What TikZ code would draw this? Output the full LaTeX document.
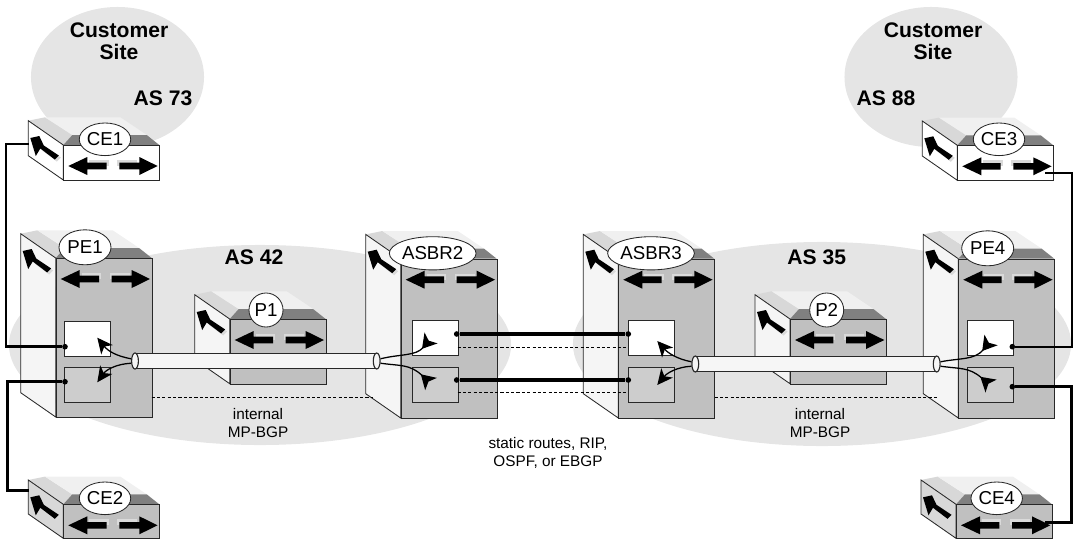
\documentclass[tikz,border=0pt]{standalone}
\usepackage{fontspec}
\setmainfont{Liberation Sans}
\usepackage{xcolor}
\usepackage{tikz}
\usetikzlibrary{arrows.meta,shapes.geometric}
\definecolor{asCloud}  {RGB}{229,229,229}
\definecolor{asFace}   {RGB}{192,192,192}
\definecolor{asSide}   {RGB}{245,245,245}
\definecolor{asTop}    {RGB}{128,128,128}
\definecolor{asTopL}   {RGB}{216,216,216}
\definecolor{asTopXL}  {RGB}{240,240,240}
\definecolor{asShade}  {RGB}{218,218,218}
\definecolor{asLine}   {RGB}{ 40, 40, 40}
\definecolor{asPipe}   {RGB}{246,246,246}

% router: name, x, y (front top left), height, side fill, front fill
\newcommand{\router}[6]{
  \begin{scope}[shift={(#2,#3)}]
    \fill[asTopL]  (-35,-24.3) -- (-18.3,-27.7) -- (9,-10) -- (0,0) -- cycle;
    \fill[asTopXL] (-18.3,-27.7) -- (57,-27.7) -- (83.4,-10) -- (9,-10) -- cycle;
    \fill[asTop]   (0,0) -- (9,-10) -- (83.4,-10) -- (96,0) -- cycle;
    \draw[edge,fill=#5] (-35,-24.3) -- (0,0) -- (0,#4) -- (-35,#4-24.3) -- cycle;
    \node[frontbox,fill=#6,minimum height=#4*0.025cm] (#1) at (0,0) {};
    % shadows, then the three arrows
    \fill[asShade,shift={(2,-3)}] (24,18) -- (43.3,18) -- (43.3,24) -- (24,24) -- cycle;
    \fill[asShade,shift={(-2,-3)}] (56,18) -- (76,18) -- (76,24) -- (56,24) -- cycle;
    \fill[asShade,shift={(2,2)}] (-19.5,0.5) -- (-4.5,10.5) -- (-8.5,14.5) -- (-23,3.5) -- cycle;
    \fill[black] (5,21) -- (24,12) -- (24,17.7) -- (43.3,17.7) -- (43.3,24.3) -- (24,24.3) -- (24,30) -- cycle;
    \fill[black] (56,17.7) -- (76,17.7) -- (76,12) -- (94.3,21) -- (76,30) -- (76,24.3) -- (56,24.3) -- cycle;
    \fill[black] (-33,-7) -- (-24,-9) -- (-19.5,0.5) -- (-4.5,10.5) -- (-8.5,14.5)
                 -- (-23,3.5) -- (-27.5,11) -- cycle;
  \end{scope}
}

\begin{document}
\begin{tikzpicture}[
  x=0.025cm,y=-0.025cm,
  every node/.style={font=\fontsize{10.9}{13}\selectfont},
  edge/.style={draw=asLine,line width=0.6pt},
  frontbox/.style={edge,rectangle,anchor=north west,inner sep=0,
                   minimum width=2.4cm},
  portbox/.style={edge,rectangle,anchor=north west,inner sep=0,
                  minimum width=1.135cm,minimum height=0.87cm},
  cloud/.style={ellipse,fill=asCloud,inner sep=0},
  tagce/.style={edge,ellipse,fill=white,inner sep=0,minimum width=1.125cm,
                minimum height=0.815cm,font=\fontsize{13.3}{15}\selectfont},
  tagpe/.style={tagce,minimum width=1.3cm,minimum height=0.875cm},
  tagp/.style={tagce,minimum width=0.85cm,minimum height=0.85cm},
  tagasbr/.style={tagce,minimum width=1.95cm,minimum height=0.83cm},
  head/.style={font=\bfseries\fontsize{15}{15.6}\selectfont,align=center,inner sep=0},
  note/.style={align=center,inner sep=0},
  dotnode/.style={circle,fill=black,inner sep=0,minimum size=0.14cm},
  link/.style={line width=1.9pt},
  hop/.style={line width=2.5pt},
  session/.style={line width=0.7pt,dash pattern=on 2.2pt off 1.6pt},
  tube/.style={draw=asLine,line width=0.8pt,ellipse,fill=asPipe,inner sep=0,
               minimum width=0.17cm,minimum height=0.4cm},
  flow/.style={line width=0.9pt,-{Stealth[length=11pt,width=10.5pt,inset=3pt]}},
  backflow/.style={line width=0.9pt,-{Stealth[length=10pt,width=12pt,inset=2.5pt,reversed]}}
]
\useasboundingbox (0,0) rectangle (1073,539);

% AS clouds
\node[cloud,minimum width=4.325cm,minimum height=3.5cm] (site1) at (117.5,77) {};
\node[cloud,minimum width=4.325cm,minimum height=3.5cm] (site2) at (931,77) {};
\node[cloud,minimum width=12.55cm,minimum height=5cm] (as42) at (260,345) {};
\node[cloud,minimum width=12.45cm,minimum height=5.1cm] (as35) at (822,344) {};

% Routers
\router{ce1}{63.3}{145}{35}{white}{white}
\router{ce3}{957.3}{145.3}{35}{white}{white}
\router{ce2}{63.3}{504.3}{34}{asTopL}{asFace}
\router{ce4}{956}{504.3}{34}{asTopL}{asFace}
\router{pe1}{55.7}{258}{159}{asSide}{asFace}
\router{asbr2}{400.7}{258.7}{159.3}{asSide}{asFace}
\router{asbr3}{618.3}{258.7}{159.3}{asSide}{asFace}
\router{pe4}{958.3}{258.7}{159.3}{asSide}{asFace}
\router{p1}{229.7}{319}{64.7}{asSide}{asFace}
\router{p2}{790}{319}{64.7}{asSide}{asFace}

% Ports
\node[portbox,fill=white] (pe1up)   at (64.3,320.7) {};
\node[portbox,fill=asFace!80!white] (pe1dn)   at (64.3,367.3) {};
\node[portbox,fill=white] (asbr2up) at (412.3,320.3) {};
\node[portbox,fill=asFace!80!white] (asbr2dn) at (412.3,367) {};
\node[portbox,fill=white] (asbr3up) at (628.3,320.3) {};
\node[portbox,fill=asFace!80!white] (asbr3dn) at (628.3,367) {};
\node[portbox,fill=white] (pe4up)   at (967.3,320.3) {};
\node[portbox,fill=asFace!80!white] (pe4dn)   at (967.3,367) {};

% Tubes
\fill[asPipe] (135,353.3) rectangle (376.7,368.7);
\draw[edge] (135,353.3) -- (376.7,353.3) (135,368.7) -- (376.7,368.7);
\fill[asPipe] (695.3,356.2) rectangle (936.7,371.8);
\draw[edge] (695.3,356.2) -- (936.7,356.2) (695.3,371.8) -- (936.7,371.8);
\node[tube] (tube1) at (135,361) {};
\node[tube] (tube2) at (376.7,361) {};
\node[tube] (tube3) at (695.3,364) {};
\node[tube] (tube4) at (936.7,364) {};

% Ends of the flows inside the ports
\coordinate (pe1tipa)   at (97.3,337.7);
\coordinate (pe1tipb)   at (97.3,382.3);
\coordinate (asbr3tipa) at (657.3,341);
\coordinate (asbr3tipb) at (657.3,385);
\coordinate (asbr2tipa) at (431,338);
\coordinate (asbr2tipb) at (431,384);
\coordinate (pe4tipa)   at (991,340);
\coordinate (pe4tipb)   at (991,386);

\draw[flow] (tube1.150) .. controls (116,356) and (108,351) .. (pe1tipa);
\draw[flow] (tube1.210) .. controls (116,364) and (106,370) .. (pe1tipb);
\draw[flow] (tube3.150) .. controls (677,359) and (668,353) .. (asbr3tipa);
\draw[flow] (tube3.210) .. controls (677,367) and (667,373) .. (asbr3tipb);
\draw[backflow] (tube2.30) .. controls (400,354) and (416,356) .. (asbr2tipa);
\draw[backflow] (tube2.-30) .. controls (400,366) and (410,364) .. (asbr2tipb);
\draw[backflow] (tube4.30) .. controls (960,358) and (975,360) .. (pe4tipa);
\draw[backflow] (tube4.-30) .. controls (960,369) and (969,367) .. (pe4tipb);

% Link dots
\node[dotnode] (pe1a)   at (65,346.7) {};
\node[dotnode] (pe1b)   at (65,381.7) {};
\node[dotnode] (asbr2a) at (456.7,334) {};
\node[dotnode] (asbr2b) at (456.7,380) {};
\node[dotnode] (asbr3a) at (628.3,334) {};
\node[dotnode] (asbr3b) at (628.3,380) {};
\node[dotnode] (pe4a)   at (1012.3,346.7) {};
\node[dotnode] (pe4b)   at (1012.3,386.7) {};
\coordinate (ce1link) at (28.5,144);
\coordinate (ce2link) at (28.5,490.7);
\coordinate (ce3link) at (1045,173.3);
\coordinate (ce4link) at (1045,522.7);

% Links
\draw[link] (ce1link) -- ++(-22.5,0) |- (pe1a);
\draw[link] (pe1b) -- ++(-57.3,0) |- (ce2link);
\draw[link,line width=1.5pt] (ce3link) -- ++(27.3,0) |- (pe4a);
\draw[link] (pe4b) -- ++(59.4,0) |- (ce4link);
\draw[hop] (asbr2a) -- (asbr3a);
\draw[hop] (asbr2b) -- (asbr3b);

% Dotted sessions
\coordinate (sess1a) at (151.7,397);
\coordinate (sess1b) at (373,397);
\coordinate (sess2a) at (714.7,397);
\coordinate (sess2b) at (938,397);
\coordinate (sess3a) at (457.7,347.7);
\coordinate (sess3b) at (628.3,347.7);
\coordinate (sess4a) at (457.7,392.7);
\coordinate (sess4b) at (628.3,392.7);
\draw[session] (sess1a) -- (sess1b);
\draw[session] (sess2a) -- (sess2b);
\draw[session] (sess3a) -- (sess3b);
\draw[session] (sess4a) -- (sess4b);

% Router names
\node[tagce]   (ce1tag)   at (105,139.3)   {CE1};
\node[tagce]   (ce2tag)   at (105,498.3)   {CE2};
\node[tagce]   (ce3tag)   at (999,139.3)   {CE3};
\node[tagce]   (ce4tag)   at (996.7,498.3) {CE4};
\node[tagpe]   (pe1tag)   at (85,247.3)    {PE1};
\node[tagpe]   (pe4tag)   at (987.7,248.3) {PE4};
\node[tagp]    (p1tag)    at (266,310)     {P1};
\node[tagp]    (p2tag)    at (826.7,310)   {P2};
\node[tagasbr] (asbr2tag) at (432.7,253.3) {ASBR2};
\node[tagasbr] (asbr3tag) at (651,253.3)   {ASBR3};

% Texts
\node[head] (site1txt) at (119,41)  {Customer\\Site};
\node[head] (site2txt) at (933,41)  {Customer\\Site};
\node[head] (as73txt)  at (163,98)  {AS 73};
\node[head] (as88txt)  at (886,98)  {AS 88};
\node[head] (as42txt)  at (254,257) {AS 42};
\node[head] (as35txt)  at (816.7,257) {AS 35};
\node[note] (bgp1txt)  at (258,423) {internal\\MP-BGP};
\node[note] (bgp2txt)  at (820,423) {internal\\MP-BGP};
\node[note] (hoptxt)   at (548,453) {static routes, RIP,\\OSPF, or EBGP};
\end{tikzpicture}
\end{document}
